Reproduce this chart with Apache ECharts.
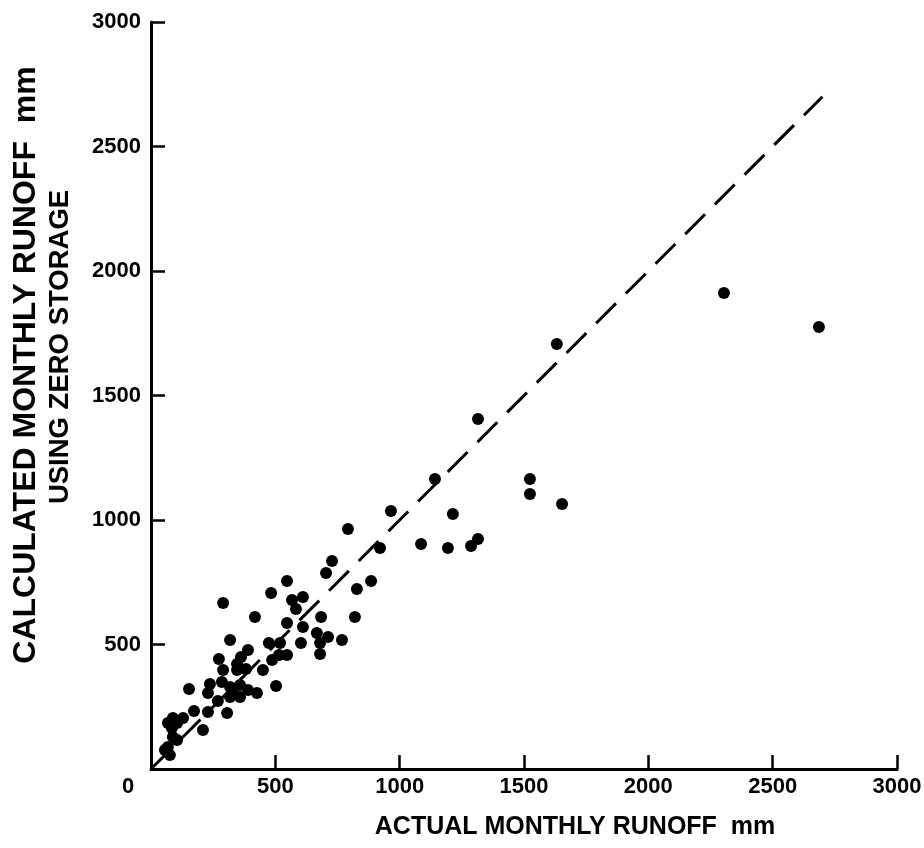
<!DOCTYPE html>
<html>
<head>
<meta charset="utf-8">
<script src="https://cdn.jsdelivr.net/npm/echarts@6/dist/echarts.min.js"></script>
<style>
    html, body { margin: 0; padding: 0; background: #fff; }
    #runoff-chart { width: 924px; height: 848px; }
</style>
</head>
<body>
<div id="runoff-chart"></div>
<script>
    // actual vs calculated monthly runoff (mm)
    var actualRunoff = [
        2686, 2304, 1632, 1315, 1142, 1524, 1524, 1653, 965, 1214,
        921, 1086, 1194, 1287, 1315, 885, 828, 728, 704, 547,
        483, 567, 611, 583, 290, 418, 684, 820, 547, 611,
        667, 712, 768, 603, 680, 680, 474, 519, 318, 390,
        450, 487, 547, 515, 362, 346, 273, 290, 346, 382,
        503, 358, 237, 285, 153, 318, 330, 390, 426, 229,
        269, 358, 318, 229, 173, 306, 88, 129, 68, 105,
        84, 209, 88, 105, 68, 56, 76, 792
    ];
    var calculatedRunoff = [
        1775, 1912, 1707, 1406, 1165, 1165, 1104, 1064, 1036, 1024,
        888, 904, 888, 896, 924, 755, 723, 835, 787, 755,
        707, 679, 691, 643, 667, 610, 610, 610, 586, 570,
        546, 530, 518, 506, 506, 462, 506, 506, 518, 478,
        398, 438, 458, 458, 450, 422, 442, 398, 398, 402,
        333, 337, 341, 349, 321, 329, 305, 317, 305, 305,
        273, 289, 289, 229, 233, 225, 205, 205, 185, 185,
        165, 157, 129, 116, 88, 76, 56, 964
    ];
    // 1:1 reference line
    var equalLineX = [0, 2700];
    var equalLineY = [0, 2700];
    var axisTicks = [0, 500, 1000, 1500, 2000, 2500, 3000];

    var points = [];
    for (var i in actualRunoff) {
        points.push([actualRunoff[i], calculatedRunoff[i]]);
    }
    var equalLine = [];
    for (var j in equalLineX) {
        equalLine.push([equalLineX[j], equalLineY[j]]);
    }

    var font = "'Liberation Sans', Arial, Helvetica, sans-serif";
    var axisCommon = {
        type: "value",
        min: axisTicks[0],
        max: axisTicks[axisTicks.length - 1],
        interval: axisTicks[1] - axisTicks[0],
        splitLine: { show: false },
        axisLine: { lineStyle: { color: "#000", width: 3 } },
        axisTick: { inside: true, length: 14, lineStyle: { color: "#000", width: 2.5 } }
    };

    var eChart = echarts.init(document.getElementById("runoff-chart"));
    eChart.setOption({
        animation: false,
        backgroundColor: "#fff",
        grid: {
            left: 151,
            right: 27,
            top: 22,
            bottom: 79,
            outerBoundsMode: "none"
        },
        xAxis: Object.assign({}, axisCommon, {
            name: "ACTUAL MONTHLY RUNOFF  mm",
            nameLocation: "middle",
            nameGap: 46,
            nameTextStyle: { color: "#000", fontSize: 25, fontWeight: "bold", fontFamily: font, padding: [0, 0, 0, 102] },
            axisLabel: {
                color: "#000",
                fontSize: 22,
                fontWeight: "bold",
                fontFamily: font,
                margin: 7,
                formatter: function (v) {
                    return v === 0 ? "{zero|0}" : String(v);
                },
                rich: {
                    zero: { color: "#000", fontSize: 22, fontWeight: "bold", fontFamily: font, padding: [0, 46, 0, 0] }
                }
            }
        }),
        yAxis: Object.assign({}, axisCommon, {
            name: "{top|CALCULATED MONTHLY RUNOFF  mm}\n{bottom|USING ZERO STORAGE}",
            nameLocation: "middle",
            nameGap: 74,
            nameTextStyle: {
                color: "#000",
                fontWeight: "bold",
                fontFamily: font,
                padding: [0, 0, 0, 61],
                rich: {
                    top: { color: "#000", fontSize: 32, fontWeight: "bold", fontFamily: font, lineHeight: 34 },
                    bottom: { color: "#000", fontSize: 27.5, fontWeight: "bold", fontFamily: font, lineHeight: 34, padding: [0, 0, 0, 36] }
                }
            },
            axisLabel: {
                color: "#000",
                fontSize: 22,
                fontWeight: "bold",
                fontFamily: font,
                margin: 10,
                formatter: function (v) {
                    return v === 0 ? "" : String(v);
                }
            }
        }),
        series: [
            {
                name: "1:1",
                type: "line",
                data: equalLine,
                symbol: "none",
                z: 1,
                lineStyle: { color: "#000", width: 3, type: [28, 14] }
            },
            {
                name: "months",
                type: "scatter",
                data: points,
                symbol: "circle",
                symbolSize: 12,
                z: 2,
                itemStyle: { color: "#000", opacity: 1 }
            }
        ]
    });
</script>
</body>
</html>
